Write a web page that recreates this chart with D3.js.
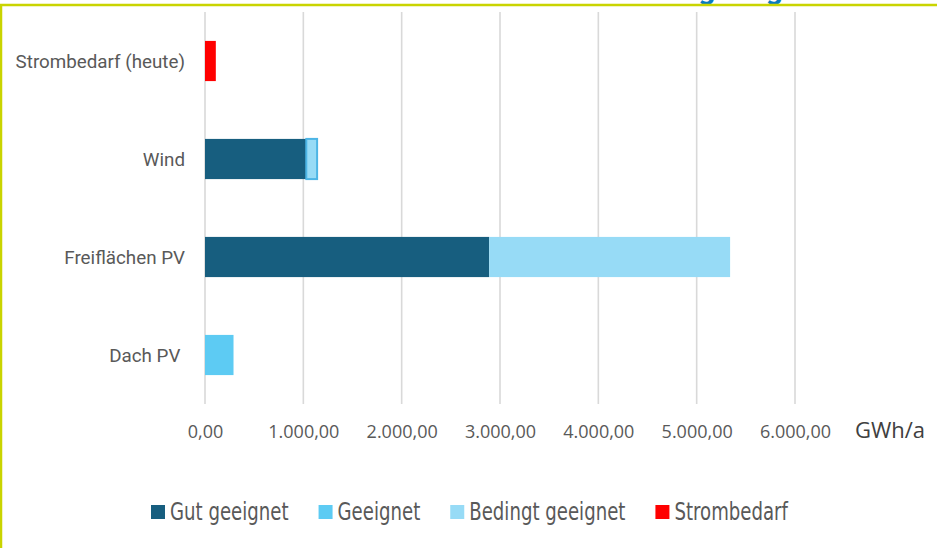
<!DOCTYPE html>
<html>
<head>
<meta charset="utf-8">
<script src="https://cdn.jsdelivr.net/npm/d3@7"></script>
<style>
  body { margin: 0; background: #fff; }
  svg { display: block; }
</style>
</head>
<body>
<div id="chart"></div>
<script>
// chart data
var categories = ["Strombedarf (heute)", "Wind", "Freiflächen PV", "Dach PV "];
var seriesNames = ["Gut geeignet", "Geeignet", "Bedingt geeignet", "Strombedarf"];
var gutGeeignet = [0, 1030, 2890, 0];
var geeignet = [0, 0, 0, 290];
var bedingtGeeignet = [0, 110, 2450, 0];
var strombedarf = [110, 0, 0, 0];
var xTicks = [0, 1000, 2000, 3000, 4000, 5000, 6000];
var unitLabel = "GWh/a";
var titleText = "Flächenanteile nach Eignung";

var colours = ["#175e7f", "#5dcbf3", "#97dbf6", "#ff0000"];

var width = 937;
var height = 548;

// build rows for the stack
var rows = categories.map(function (c, i) {
    return {
        cat: c,
        "Gut geeignet": gutGeeignet[i],
        "Geeignet": geeignet[i],
        "Bedingt geeignet": bedingtGeeignet[i],
        "Strombedarf": strombedarf[i]
    };
});
var stacked = d3.stack().keys(seriesNames)(rows);

var svg = d3.select("#chart").append("svg")
    .attr("width", width)
    .attr("height", height);

// title, mostly cut off above the frame
svg.append("text")
    .attr("x", 783)
    .attr("y", -1)
    .attr("text-anchor", "end")
    .style("font-family", "Roboto, sans-serif")
    .style("font-weight", "bold")
    .style("font-size", "30px")
    .attr("fill", "#0a7bbf")
    .text(titleText);

// frame lines (top + left)
svg.append("line")
    .attr("x1", 0).attr("x2", width)
    .attr("y1", 5).attr("y2", 5)
    .attr("stroke", "#c9d400").attr("stroke-width", 2.5);
svg.append("line")
    .attr("x1", 1).attr("x2", 1)
    .attr("y1", 4).attr("y2", height)
    .attr("stroke", "#c9d400").attr("stroke-width", 2.5);

// scales
var xScale = d3.scaleLinear()
    .domain([0, 6000])
    .range([205, 795]);
var yScale = d3.scaleBand()
    .domain(categories)
    .range([12, 404])
    .paddingInner(0.59)
    .paddingOuter(0.295);

// grid lines
svg.append("g")
    .selectAll("line")
    .data(xTicks)
    .enter()
    .append("line")
        .attr("x1", function (d) { return xScale(d); })
        .attr("x2", function (d) { return xScale(d); })
        .attr("y1", 12)
        .attr("y2", 404)
        .attr("stroke", "#d9d9d9")
        .attr("stroke-width", 1.6);

// bars
var groups = svg.append("g")
    .selectAll("g")
    .data(stacked)
    .enter()
    .append("g")
        .attr("fill", function (d, i) { return colours[i]; });

groups.selectAll("rect")
    .data(function (d) { return d.filter(function (p) { return p[1] - p[0] > 0; }); })
    .enter()
    .append("rect")
        .attr("x", function (d) { return xScale(d[0]); })
        .attr("y", function (d) { return yScale(d.data.cat); })
        .attr("width", function (d) { return xScale(d[1]) - xScale(d[0]); })
        .attr("height", yScale.bandwidth());

// the small wind segment is outlined in the reference
groups.filter(function (d) { return d.key === "Bedingt geeignet"; })
    .selectAll("rect")
    .filter(function (d) { return d.data.cat === "Wind"; })
    .attr("stroke", "#4db5e5")
    .attr("stroke-width", 2);

// y axis labels
var yAxis = svg.append("g")
    .attr("transform", "translate(185,0)")
    .call(d3.axisLeft(yScale).tickSize(0).tickPadding(0));
yAxis.select(".domain").remove();
yAxis.selectAll("text")
    .attr("dy", "0.35em")
    .style("white-space", "pre")
    .style("font-family", "Roboto, sans-serif")
    .style("font-size", "18.8px")
    .attr("fill", "#595959");

// x axis labels
var xAxis = svg.append("g")
    .attr("transform", "translate(0,438)")
    .call(d3.axisBottom(xScale)
        .tickValues(xTicks)
        .tickSize(0)
        .tickPadding(0)
        .tickFormat(function (d) {
            return d3.format(",.2f")(d).replace(/,/g, "#").replace(".", ",").replace(/#/g, ".");
        }));
xAxis.select(".domain").remove();
xAxis.selectAll("text")
    .attr("dy", 0)
    .style("font-family", "'Open Sans', sans-serif")
    .style("font-size", "18px")
    .attr("fill", "#595959");

svg.append("text")
    .attr("x", 855)
    .attr("y", 438)
    .style("font-family", "'Open Sans', sans-serif")
    .style("font-size", "22px")
    .attr("fill", "#404040")
    .text(unitLabel);

// legend (narrow font squeezed horizontally)
var legend = svg.append("g");
var lx = 151;
var squeeze = 0.84;
seriesNames.forEach(function (name, i) {
    legend.append("rect")
        .attr("x", lx)
        .attr("y", 505)
        .attr("width", 14)
        .attr("height", 14)
        .attr("fill", colours[i]);
    var t = legend.append("text")
        .attr("transform", "translate(" + (lx + 19) + ",520) scale(" + squeeze + ",1)")
        .style("font-family", "'Liberation Sans Narrow', 'DejaVu Sans Condensed', sans-serif")
        .style("font-size", "24px")
        .attr("fill", "#595959")
        .text(name);
    lx += 19 + t.node().getComputedTextLength() * squeeze + 30;
});
</script>
</body>
</html>
